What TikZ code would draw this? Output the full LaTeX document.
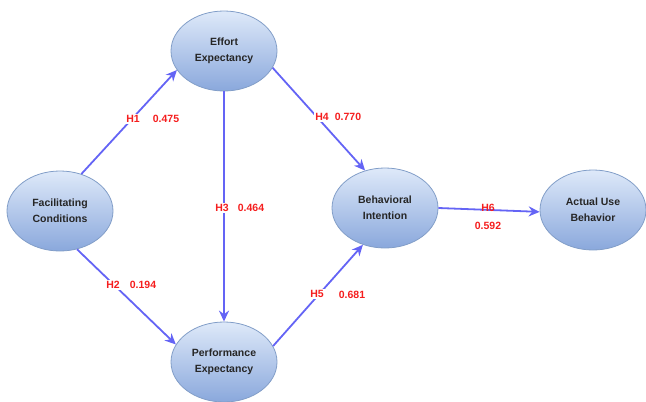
\documentclass[tikz,border=0pt]{standalone}
\usepackage{fontspec}
\setmainfont{Liberation Sans}
\usetikzlibrary{shapes.geometric,arrows.meta}
\definecolor{linec}{RGB}{100,100,245}
\definecolor{topc}{RGB}{222,233,249}
\definecolor{botc}{RGB}{138,168,220}
\definecolor{borderc}{RGB}{130,158,200}
\definecolor{labc}{RGB}{245,30,30}
\tikzset{
  construct/.style={ellipse, draw=borderc, line width=0.8pt, top color=topc, bottom color=botc,
    minimum width=106pt, minimum height=80pt, inner sep=0pt, align=center,
    font=\fontsize{10.5}{16}\selectfont\bfseries, text=black!85},
  path/.style={draw=linec, line width=1.8pt, -{Stealth[length=11pt,width=10pt]}},
  hyp/.style={fill=white, inner sep=1pt, text=labc, font=\fontsize{10.5}{12}\selectfont\bfseries},
  coef/.style={inner sep=0.5pt, text=labc, font=\fontsize{10.5}{12}\selectfont\bfseries}
}
\begin{document}
\begin{tikzpicture}[x=1pt,y=-1pt]
\useasboundingbox (0,0) rectangle (646,402);
\node[construct] (fc) at (60,211) {Facilitating\\Conditions};
\node[construct] (ee) at (224,51) {Effort\\Expectancy};
\node[construct] (pe) at (224,362) {Performance\\Expectancy};
\node[construct] (bi) at (385,208) {Behavioral\\Intention};
\node[construct] (aub) at (593,210) {Actual Use\\Behavior};

\draw[path] (fc.60) -- (ee.202);
\draw[path] (fc.294) -- (pe.160);
\draw[path] (ee.south) -- (pe.north);
\draw[path] (ee.341) -- (bi.118);
\draw[path] (pe.18) -- (bi.239);
\draw[path] (bi.east) -- (aub.182);

\node[hyp] (h1) at (133,119) {H1};
\node[coef] (c1) at (166,119) {0.475};
\node[hyp] (h2) at (113,285) {H2};
\node[coef] (c2) at (143,285) {0.194};
\node[hyp] (h3) at (222,208) {H3};
\node[coef] (c3) at (251,208) {0.464};
\node[hyp] (h4) at (322,117) {H4};
\node[coef] (c4) at (348,117) {0.770};
\node[hyp] (h5) at (317,294) {H5};
\node[coef] (c5) at (352,295) {0.681};
\node[hyp, fill=none] (h6) at (488,208) {H6};
\node[coef] (c6) at (488,226) {0.592};
\end{tikzpicture}
\end{document}
